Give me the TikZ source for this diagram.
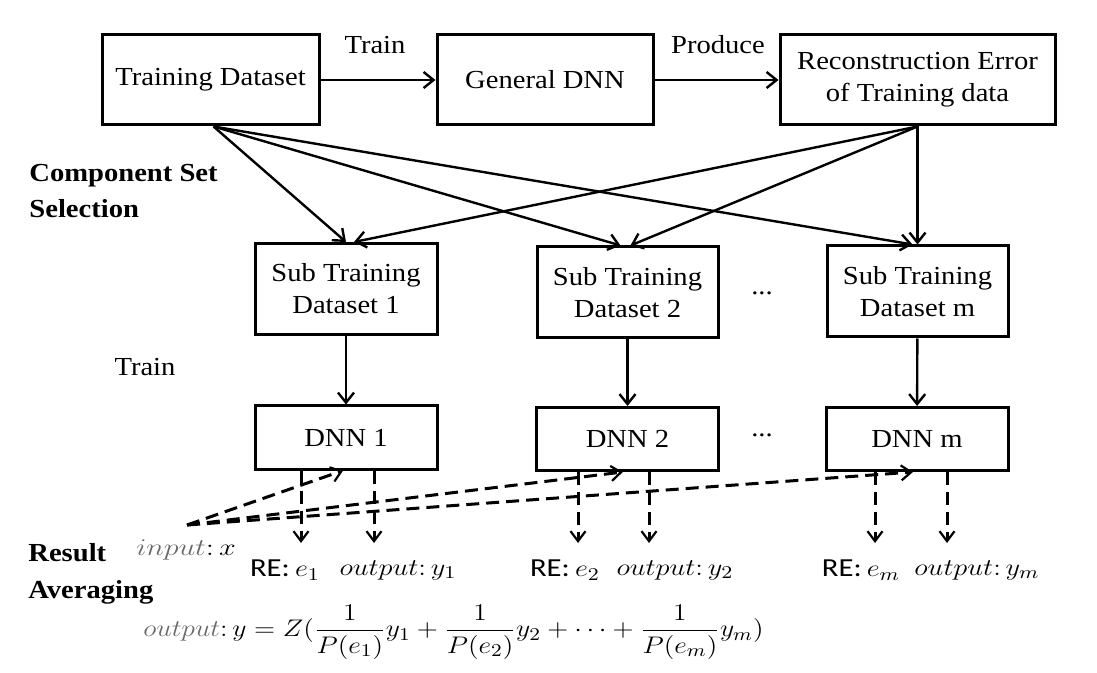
\documentclass[tikz,border=0pt]{standalone}
\usepackage{fontspec}
\setmainfont[FakeStretch=1.1]{Liberation Serif}
\newfontfamily\calib{Carlito}
\usetikzlibrary{arrows.meta,calc}
\definecolor{greytxt}{RGB}{105,105,105}
\newcommand{\wide}[2][1.18]{\scalebox{#1}[1]{#2}}
\begin{document}
\begin{tikzpicture}[x=0.5pt,y=-0.5pt,
  boxfont/.style={font=\fontsize{13}{16}\selectfont},
  bigbox/.style={draw,line width=1.5pt,inner sep=0pt,align=center,boxfont,minimum height=45pt},
  dnnbox/.style={draw,line width=1.5pt,inner sep=0pt,align=center,boxfont,minimum height=31.5pt,minimum width=91pt},
  arr/.style={line width=1.2pt,-{Straight Barb[length=5pt,width=8pt,line width=1.2pt]}},
  darr/.style={line width=1.5pt,dash pattern=on 6.5pt off 3.5pt,-{Straight Barb[length=5pt,width=7.5pt,line width=1.1pt]}},
  lbl/.style={font=\fontsize{13}{16}\selectfont},
  boldlbl/.style={font=\fontsize{13}{18}\selectfont\bfseries,align=left,anchor=west,inner sep=0pt},
  mathlbl/.style={font=\fontsize{13}{15}\selectfont,inner sep=0pt}
]
\useasboundingbox (0,0) rectangle (1097,673);

% top row
\node[bigbox,minimum width=108.5pt] (td) at (210.5,80) {Training Dataset};
\node[bigbox,minimum width=108pt] (gd) at (545,80) {General DNN};
\node[bigbox,minimum width=137.5pt] (re) at (917.5,80) {Reconstruction Error\\of Training data};
\node[lbl] (ltrain) at (375,45) {Train};
\node[lbl] (lproduce) at (718,45) {Produce};
\draw[arr] (td) -- (gd);
\draw[arr] (gd) -- (re);

% sub training datasets
\node[bigbox,minimum width=91pt,minimum height=45.5pt] (std1) at (346,289) {Sub Training\\Dataset 1};
\node[bigbox,minimum width=90.5pt,minimum height=45.5pt] (std2) at (627.5,292.5) {Sub Training\\Dataset 2};
\node[bigbox,minimum width=90.5pt,minimum height=45.5pt] (stdm) at (917.5,291.5) {Sub Training\\Dataset m};
\node[lbl] (dots1) at (762,293) {...};

\node[boldlbl] (lsel) at (29,191) {Component Set\\Selection};

% fan arrows
\coordinate (tdo) at ([xshift=1.5pt]td.south);
\draw[arr] (tdo) -- (std1.north);
\draw[arr] (tdo) -- ([xshift=-3.5pt]std2.north);
\draw[arr] (tdo) -- ([xshift=-2.5pt]stdm.north);
\draw[arr] (re.south) -- ([xshift=4pt]std1.north);
\draw[arr] (re.south) -- ([xshift=1.5pt]std2.north);
\draw[arr] (re.south) -- (stdm.north);

% DNNs
\node[dnnbox] (dnn1) at (346,437.5) {DNN 1};
\node[dnnbox] (dnn2) at (627.5,439) {DNN 2};
\node[dnnbox] (dnnm) at (917,439) {DNN m};
\node[lbl] (dots2) at (762,435) {...};
\node[lbl] (ltrain2) at (145,367) {Train};
\draw[arr] (std1) -- (dnn1);
\draw[arr] (std2) -- (dnn2);
\draw[arr] (stdm) -- (dnnm);

% outputs
\coordinate (a1) at (301,543);
\coordinate (b1) at (374,543);
\coordinate (a2) at (578,543);
\coordinate (b2) at (649,543);
\coordinate (am) at (875,543);
\coordinate (bm) at (947,543);
\draw[darr] (dnn1.south -| a1) -- (a1);
\draw[darr] (dnn1.south -| b1) -- (b1);
\draw[darr] (dnn2.south -| a2) -- (a2);
\draw[darr] (dnn2.south -| b2) -- (b2);
\draw[darr] (dnnm.south -| am) -- (am);
\draw[darr] (dnnm.south -| bm) -- (bm);

\node[mathlbl] (re1) at (285,570) {\wide{{\calib RE:}\,$e_1$}};
\node[mathlbl] (o1) at (398,570) {\wide{$output{:}\,y_1$}};
\node[mathlbl] (re2) at (565,570) {\wide{{\calib RE:}\,$e_2$}};
\node[mathlbl] (o2) at (675,570) {\wide{$output{:}\,y_2$}};
\node[mathlbl] (rem) at (861,570) {\wide{{\calib RE:}\,$e_m$}};
\node[mathlbl] (om) at (977,570) {\wide{$output{:}\,y_m$}};

% input
\coordinate (inp) at (187,525);
\node[mathlbl] (inx) at (186,550) {\wide[1.25]{${\color{greytxt}input}{:}\,x$}};
\draw[darr] (inp) -- (dnn1.-95);
\draw[darr] (inp) -- (dnn2.-98);
\draw[darr] (inp) -- (dnnm.-97);

\node[boldlbl,font=\fontsize{13}{18.5}\selectfont\bfseries] (lavg) at (28,573.5) {Result\\Averaging};

% formula
\node[mathlbl] (formula) at (453.5,632) {\wide[1.15]{${\color{greytxt}output}{:}\,y = Z(\displaystyle\frac{1}{P(e_1)}y_1+\frac{1}{P(e_2)}y_2+\cdots+\frac{1}{P(e_m)}y_m)$}};
\end{tikzpicture}
\end{document}
